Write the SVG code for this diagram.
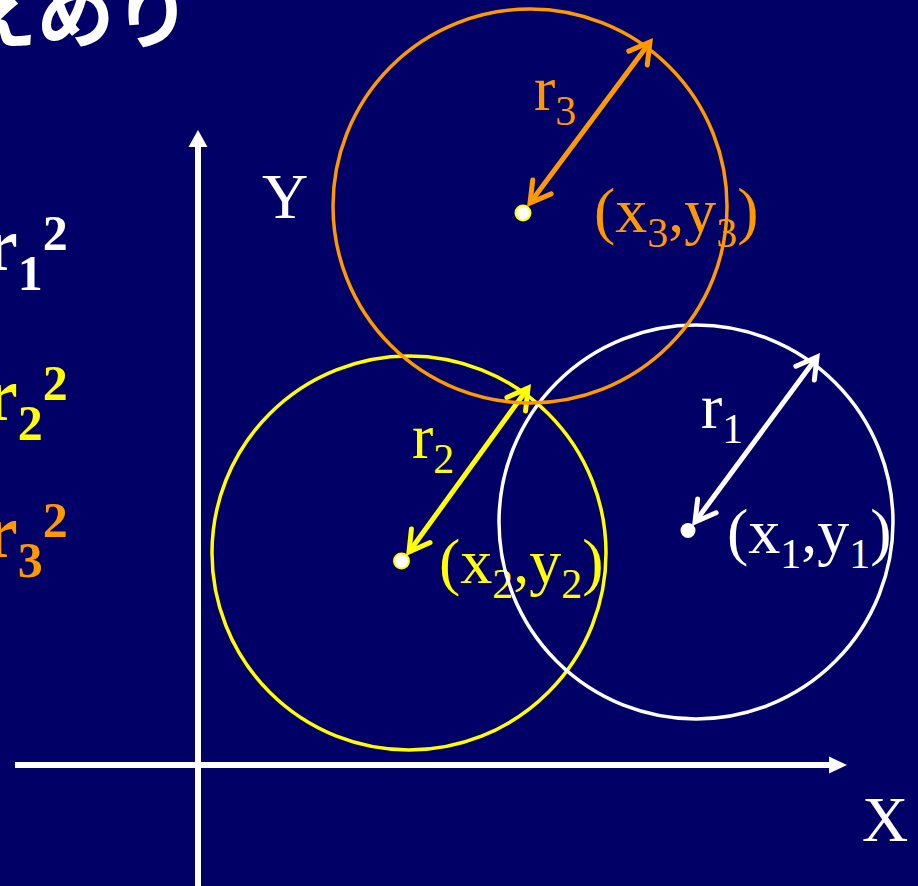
<svg xmlns="http://www.w3.org/2000/svg" width="918" height="886" viewBox="0 0 918 886">
<style>
.lbl{font-family:"Liberation Serif","Times New Roman",serif;font-size:64px}
.frm{font-family:"Liberation Serif","Times New Roman",serif;font-size:76px;font-weight:bold}
.ttl{font-family:"Noto Sans CJK JP",sans-serif;font-size:77px;font-weight:bold;fill:#fff}
.circ{fill:none;stroke-width:3.5}
.arr{fill:none;stroke-width:5}
.dot{fill:#fff;stroke:#ffff00;stroke-width:2}
</style>
<defs>
<marker id="hw" markerUnits="userSpaceOnUse" markerWidth="32" markerHeight="32" viewBox="-26 -16 32 32" refX="0" refY="0" orient="auto-start-reverse"><path d="M-20,-11.5 L0,0 L-20,11.5" fill="none" stroke="#fff" stroke-width="5" stroke-linecap="round"/></marker>
<marker id="hy" markerUnits="userSpaceOnUse" markerWidth="32" markerHeight="32" viewBox="-26 -16 32 32" refX="0" refY="0" orient="auto-start-reverse"><path d="M-20,-11.5 L0,0 L-20,11.5" fill="none" stroke="#ffff00" stroke-width="5" stroke-linecap="round"/></marker>
<marker id="ho" markerUnits="userSpaceOnUse" markerWidth="32" markerHeight="32" viewBox="-26 -16 32 32" refX="0" refY="0" orient="auto-start-reverse"><path d="M-20,-11.5 L0,0 L-20,11.5" fill="none" stroke="#ff9900" stroke-width="5" stroke-linecap="round"/></marker>
</defs>
<rect width="918" height="886" fill="#000066"/>
<g id="title"><text class="ttl" x="-40" y="42">えめり</text></g>
<g id="formulas">
<text class="frm" x="-16" y="270" fill="#fff">r<tspan font-size="50" dy="20">1</tspan><tspan font-size="50" dy="-40">2</tspan></text>
<text class="frm" x="-16" y="420" fill="#ffff00">r<tspan font-size="50" dy="20">2</tspan><tspan font-size="50" dy="-40">2</tspan></text>
<text class="frm" x="-16" y="557" fill="#ff9900">r<tspan font-size="50" dy="20">3</tspan><tspan font-size="50" dy="-40">2</tspan></text>
</g>
<g id="axes" fill="#fff" stroke="#fff">
<line x1="198" y1="145" x2="198" y2="886" stroke-width="6"/>
<polygon points="198,130 188.5,147 207.5,147" stroke="none"/>
<line x1="15" y1="765" x2="832" y2="765" stroke-width="6"/>
<polygon points="847,765 829,756.5 829,773.5" stroke="none"/>
<text class="lbl" x="262" y="218" stroke="none">Y</text>
<text class="lbl" x="862" y="841" stroke="none">X</text>
</g>
<g id="connectors">
<line class="arr" x1="530" y1="203" x2="650" y2="42" stroke="#ff9900" marker-start="url(#ho)" marker-end="url(#ho)"/>
<line class="arr" x1="409" y1="552" x2="528" y2="388" stroke="#ffff00" marker-start="url(#hy)" marker-end="url(#hy)"/>
<line class="arr" x1="695" y1="522" x2="817" y2="357" stroke="#fff" marker-start="url(#hw)" marker-end="url(#hw)"/>
</g>
<g id="circle2">
<circle class="circ" cx="409" cy="553" r="197" stroke="#ffff00"/>
<circle class="dot" cx="401.5" cy="561" r="7.5"/>
<text class="lbl" x="412" y="458" fill="#ffff00">r<tspan font-size="42" dy="15">2</tspan></text>
<text class="lbl" x="439" y="583" fill="#ffff00">(x<tspan font-size="42" dy="15">2</tspan><tspan dy="-15">,y</tspan><tspan font-size="42" dy="15">2</tspan><tspan dy="-15">)</tspan></text>
</g>
<g id="circle1">
<circle class="circ" cx="696" cy="522" r="197" stroke="#fff"/>
<circle cx="688" cy="530.5" r="7.5" fill="#fff"/>
<text class="lbl" x="701" y="428" fill="#fff">r<tspan font-size="42" dy="15">1</tspan></text>
<text class="lbl" x="727" y="553" fill="#fff">(x<tspan font-size="42" dy="15">1</tspan><tspan dy="-15">,y</tspan><tspan font-size="42" dy="15">1</tspan><tspan dy="-15">)</tspan></text>
</g>
<g id="circle3">
<circle class="circ" cx="530" cy="206" r="197" stroke="#ff9900"/>
<circle class="dot" cx="523" cy="213" r="7.5"/>
<text class="lbl" x="534" y="110" fill="#ff9900">r<tspan font-size="42" dy="15">3</tspan></text>
<text class="lbl" x="594" y="232" fill="#ff9900">(x<tspan font-size="42" dy="15">3</tspan><tspan dy="-15">,y</tspan><tspan font-size="42" dy="15">3</tspan><tspan dy="-15">)</tspan></text>
</g>
</svg>
